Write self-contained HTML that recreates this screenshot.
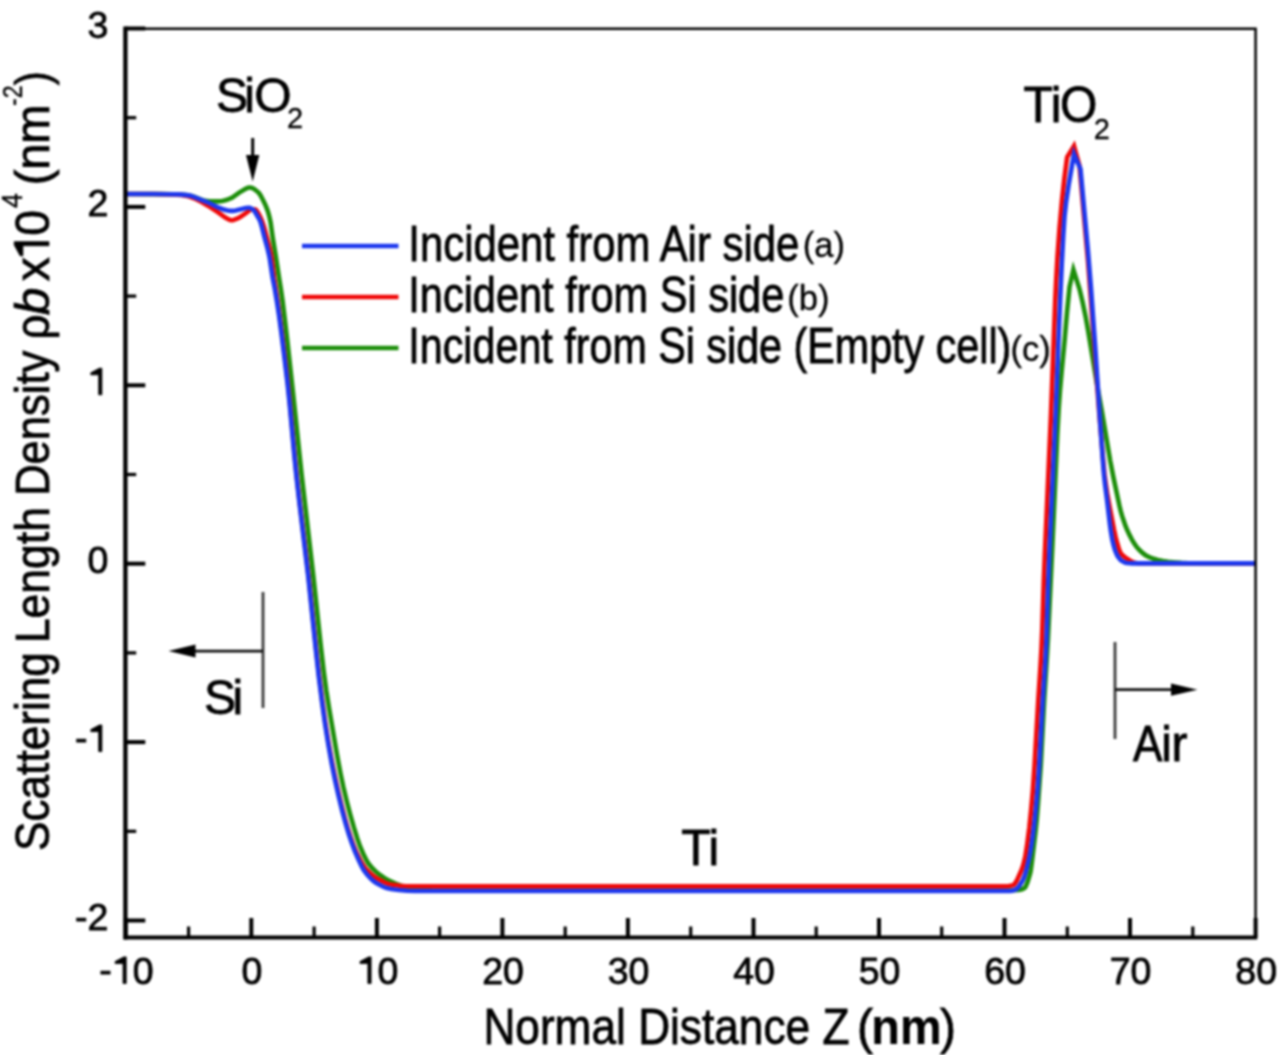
<!DOCTYPE html>
<html><head><meta charset="utf-8"><style>
html,body{margin:0;padding:0;background:#fff;width:1280px;height:1055px;overflow:hidden}
svg{display:block;filter:blur(0.8px)}
text{font-family:"Liberation Sans", sans-serif;fill:#000;stroke:#000;stroke-width:0.8px}
</style></head><body>
<svg width="1280" height="1055" viewBox="0 0 1280 1055">
<rect width="1280" height="1055" fill="#fff"/>
<path d="M125.8,194.0 L160.8,194.1 L174.3,194.3 L182.6,194.7 L187.8,195.3 L191.3,195.9 L193.8,196.7 L203.1,200.3 L205.1,200.9 L209.8,201.2 L218.6,201.4 L222.3,201.0 L224.3,200.6 L226.8,199.8 L229.8,198.6 L232.1,197.6 L233.3,196.9 L238.8,192.9 L245.6,188.8 L248.1,187.7 L249.3,187.5 L250.3,187.5 L252.1,188.0 L254.1,189.0 L256.6,190.9 L258.8,192.9 L260.6,195.5 L263.1,200.2 L264.8,203.7 L266.3,207.2 L267.6,210.6 L268.6,213.9 L269.6,217.8 L270.6,222.5 L272.8,238.2 L275.8,256.4 L279.1,278.0 L280.8,288.7 L282.6,301.2 L284.8,319.3 L287.6,343.3 L293.3,395.6 L301.6,474.5 L313.3,575.8 L320.8,645.9 L323.8,671.9 L326.3,690.6 L329.1,708.4 L336.8,753.7 L340.6,773.9 L343.3,786.8 L346.8,801.5 L350.3,814.9 L353.8,827.2 L357.3,838.5 L360.1,846.4 L363.1,853.5 L366.1,859.6 L368.3,863.3 L372.1,867.9 L375.6,871.4 L379.6,874.7 L384.3,877.9 L389.6,880.9 L395.6,883.6 L402.1,886.2 L404.8,887.0 L410.1,888.1 L414.1,888.8 L417.8,889.3 L431.8,890.2 L444.3,890.5 L1005.8,890.5 L1012.8,890.3 L1019.0,889.9 L1022.0,889.2 L1023.8,888.4 L1024.5,888.0 L1025.3,887.1 L1026.0,885.8 L1027.5,882.2 L1029.5,875.6 L1030.3,872.7 L1030.8,870.1 L1031.8,862.8 L1035.5,831.9 L1036.8,819.2 L1038.0,804.3 L1040.8,765.2 L1044.3,698.5 L1047.0,655.9 L1048.0,638.6 L1052.5,543.0 L1057.3,434.9 L1058.8,407.3 L1060.0,390.3 L1061.8,370.0 L1064.5,341.6 L1067.0,312.3 L1069.5,287.0 L1073.4,269.8 L1079.5,289.0 L1082.5,301.7 L1085.8,317.6 L1088.2,331.2 L1096.5,381.5 L1101.8,410.9 L1110.2,460.6 L1113.2,476.2 L1119.5,506.0 L1120.8,511.3 L1122.0,515.7 L1123.8,521.1 L1125.5,525.9 L1127.2,530.1 L1129.5,534.9 L1131.8,539.3 L1133.8,542.8 L1136.2,546.4 L1139.2,549.8 L1142.5,552.9 L1145.5,555.2 L1149.2,557.1 L1153.8,558.8 L1157.8,559.9 L1163.0,560.9 L1168.0,561.7 L1173.0,562.2 L1181.5,562.9 L1188.5,563.2 L1207.0,563.4 L1255.0,563.4" fill="none" stroke="#1c8e0a" stroke-width="4.6" stroke-linejoin="miter" stroke-miterlimit="6"/>
<path d="M125.8,194.0 L154.1,194.0 L172.1,194.4 L181.1,194.9 L184.1,195.4 L187.3,196.1 L190.8,197.0 L193.3,198.0 L197.1,199.7 L201.6,202.0 L208.3,205.9 L212.8,208.8 L218.1,212.3 L225.3,217.5 L229.3,219.7 L230.3,220.1 L231.3,220.3 L232.6,220.2 L233.8,219.9 L237.6,218.4 L239.8,217.3 L242.3,215.7 L246.8,212.5 L249.6,210.3 L250.8,209.6 L252.1,209.3 L255.3,209.6 L255.8,209.8 L256.3,210.3 L258.3,213.1 L260.6,217.6 L262.3,221.7 L264.3,228.0 L268.8,244.9 L270.3,251.1 L271.6,257.4 L272.3,262.5 L274.3,279.0 L278.1,304.3 L282.3,335.8 L285.8,364.2 L288.6,388.9 L290.3,407.1 L294.8,456.8 L297.1,479.2 L299.8,503.5 L306.1,554.7 L308.6,576.2 L316.3,650.5 L319.1,675.5 L322.1,699.4 L325.1,721.0 L328.3,741.3 L331.8,760.8 L334.6,774.6 L337.8,789.4 L341.3,804.3 L344.8,817.9 L347.8,828.4 L350.6,837.0 L353.8,846.0 L356.8,853.1 L360.3,860.1 L363.3,865.3 L365.6,868.5 L369.1,872.2 L372.8,875.5 L376.8,878.3 L383.3,881.8 L385.8,883.0 L388.3,883.9 L391.1,884.6 L394.6,885.1 L400.3,885.8 L405.8,886.2 L410.1,886.3 L440.6,886.4 L1005.0,886.4 L1008.3,886.2 L1011.5,885.6 L1013.3,885.1 L1014.3,884.3 L1015.5,882.7 L1017.0,880.1 L1021.0,871.3 L1022.3,867.9 L1023.3,864.7 L1025.3,856.6 L1027.0,845.7 L1029.3,827.8 L1031.0,811.0 L1032.8,791.0 L1034.5,766.2 L1038.3,700.0 L1040.5,665.9 L1041.5,648.1 L1042.3,629.0 L1043.8,581.0 L1044.8,555.5 L1051.0,413.9 L1055.3,298.8 L1056.3,277.9 L1057.5,256.3 L1059.5,228.5 L1062.0,200.2 L1064.3,178.9 L1066.8,159.6 L1067.2,157.0 L1074.0,146.0 L1079.5,166.0 L1088.0,261.0 L1090.2,290.3 L1099.0,410.2 L1102.8,456.0 L1104.5,474.5 L1105.8,484.0 L1107.2,493.4 L1109.5,506.1 L1114.0,529.7 L1115.5,536.6 L1117.2,543.3 L1118.8,548.4 L1120.0,551.8 L1120.5,552.8 L1121.2,553.9 L1123.5,556.2 L1125.5,557.7 L1130.2,560.7 L1132.0,561.7 L1133.5,562.4 L1136.5,563.0 L1138.8,563.3 L1255.0,563.4" fill="none" stroke="#f00808" stroke-width="4.6" stroke-linejoin="miter" stroke-miterlimit="6"/>
<path d="M125.8,194.0 L153.1,194.0 L167.6,194.2 L178.8,194.4 L185.1,194.9 L190.1,195.6 L193.3,196.6 L207.6,202.3 L217.3,207.1 L222.8,209.2 L226.6,210.2 L230.6,210.9 L233.3,210.9 L235.6,210.5 L245.8,208.0 L248.1,207.7 L249.6,207.8 L250.8,208.3 L252.1,209.0 L253.6,210.1 L254.6,211.2 L255.8,213.2 L258.6,218.0 L259.6,219.9 L260.6,222.3 L261.8,226.5 L264.3,236.7 L267.6,248.7 L268.8,253.9 L269.8,258.8 L272.6,277.5 L274.8,288.9 L277.1,302.5 L279.1,315.9 L281.3,332.4 L284.3,356.2 L287.6,384.0 L289.6,403.6 L294.3,455.0 L296.3,475.0 L299.3,501.8 L308.1,575.3 L316.1,651.9 L318.8,676.7 L322.1,702.7 L325.1,724.2 L328.3,744.4 L331.8,764.0 L334.8,779.0 L338.3,794.8 L342.1,810.4 L345.6,823.5 L348.6,833.6 L351.6,842.6 L354.8,851.1 L358.8,860.4 L361.6,866.3 L363.8,870.2 L367.3,874.9 L370.8,878.7 L373.6,881.1 L376.3,883.0 L381.8,886.0 L384.3,887.1 L386.8,888.0 L389.1,888.6 L391.1,889.1 L398.8,890.0 L407.1,890.7 L414.8,891.0 L1009.8,891.0 L1012.0,890.7 L1015.0,889.8 L1016.3,889.1 L1017.8,887.7 L1019.5,885.6 L1021.3,882.9 L1022.8,880.3 L1024.0,877.4 L1025.3,873.7 L1026.8,868.3 L1029.8,855.1 L1031.8,843.0 L1034.0,825.9 L1036.0,806.6 L1037.8,786.0 L1039.3,763.0 L1042.8,698.3 L1045.3,661.5 L1046.3,642.8 L1048.0,588.1 L1049.5,549.6 L1056.0,406.0 L1058.8,332.5 L1060.3,296.5 L1061.8,263.8 L1063.3,235.5 L1064.5,216.6 L1066.0,202.9 L1068.8,184.0 L1074.0,154.0 L1080.5,169.0 L1088.0,251.3 L1091.0,288.1 L1095.2,347.0 L1100.0,420.4 L1103.0,462.6 L1104.0,474.9 L1105.0,484.2 L1107.2,501.2 L1109.8,523.4 L1110.8,530.9 L1112.2,539.2 L1113.5,545.0 L1114.8,549.5 L1116.0,552.6 L1117.2,555.3 L1118.5,557.4 L1119.8,559.1 L1120.8,560.1 L1123.0,561.6 L1125.0,562.5 L1126.8,563.0 L1129.8,563.3 L1132.0,563.4 L1255.0,563.4" fill="none" stroke="#1d38ee" stroke-width="4.6" stroke-linejoin="miter" stroke-miterlimit="6"/>
<line x1="125.39999999999999" y1="26.5" x2="125.39999999999999" y2="939.6" stroke="#000" stroke-width="4.3"/>
<line x1="123.7" y1="937.5" x2="1257.3" y2="937.5" stroke="#000" stroke-width="4.2"/>
<path d="M125.8,28.7 L1255.6,28.7 L1255.6,937.5" fill="none" stroke="#000" stroke-width="2.5" stroke-linejoin="miter"/>
<line x1="125.8" y1="937.5" x2="125.8" y2="918" stroke="#000" stroke-width="4"/>
<line x1="251.3" y1="937.5" x2="251.3" y2="918" stroke="#000" stroke-width="4"/>
<line x1="376.9" y1="937.5" x2="376.9" y2="918" stroke="#000" stroke-width="4"/>
<line x1="502.4" y1="937.5" x2="502.4" y2="918" stroke="#000" stroke-width="4"/>
<line x1="627.9" y1="937.5" x2="627.9" y2="918" stroke="#000" stroke-width="4"/>
<line x1="753.5" y1="937.5" x2="753.5" y2="918" stroke="#000" stroke-width="4"/>
<line x1="879.0" y1="937.5" x2="879.0" y2="918" stroke="#000" stroke-width="4"/>
<line x1="1004.5" y1="937.5" x2="1004.5" y2="918" stroke="#000" stroke-width="4"/>
<line x1="1130.0" y1="937.5" x2="1130.0" y2="918" stroke="#000" stroke-width="4"/>
<line x1="1255.6" y1="937.5" x2="1255.6" y2="918" stroke="#000" stroke-width="4"/>
<line x1="188.6" y1="937.5" x2="188.6" y2="926.5" stroke="#000" stroke-width="3.2"/>
<line x1="314.1" y1="937.5" x2="314.1" y2="926.5" stroke="#000" stroke-width="3.2"/>
<line x1="439.6" y1="937.5" x2="439.6" y2="926.5" stroke="#000" stroke-width="3.2"/>
<line x1="565.2" y1="937.5" x2="565.2" y2="926.5" stroke="#000" stroke-width="3.2"/>
<line x1="690.7" y1="937.5" x2="690.7" y2="926.5" stroke="#000" stroke-width="3.2"/>
<line x1="816.2" y1="937.5" x2="816.2" y2="926.5" stroke="#000" stroke-width="3.2"/>
<line x1="941.7" y1="937.5" x2="941.7" y2="926.5" stroke="#000" stroke-width="3.2"/>
<line x1="1067.3" y1="937.5" x2="1067.3" y2="926.5" stroke="#000" stroke-width="3.2"/>
<line x1="1192.8" y1="937.5" x2="1192.8" y2="926.5" stroke="#000" stroke-width="3.2"/>
<line x1="125.8" y1="28.5" x2="145.3" y2="28.5" stroke="#000" stroke-width="4"/>
<line x1="125.8" y1="206.9" x2="145.3" y2="206.9" stroke="#000" stroke-width="4"/>
<line x1="125.8" y1="385.3" x2="145.3" y2="385.3" stroke="#000" stroke-width="4"/>
<line x1="125.8" y1="563.7" x2="145.3" y2="563.7" stroke="#000" stroke-width="4"/>
<line x1="125.8" y1="742.1" x2="145.3" y2="742.1" stroke="#000" stroke-width="4"/>
<line x1="125.8" y1="920.5" x2="145.3" y2="920.5" stroke="#000" stroke-width="4"/>
<line x1="125.8" y1="117.7" x2="136.2" y2="117.7" stroke="#000" stroke-width="3.2"/>
<line x1="125.8" y1="296.1" x2="136.2" y2="296.1" stroke="#000" stroke-width="3.2"/>
<line x1="125.8" y1="474.5" x2="136.2" y2="474.5" stroke="#000" stroke-width="3.2"/>
<line x1="125.8" y1="652.9" x2="136.2" y2="652.9" stroke="#000" stroke-width="3.2"/>
<line x1="125.8" y1="831.3" x2="136.2" y2="831.3" stroke="#000" stroke-width="3.2"/>
<text x="87.45" y="38.0" font-size="37.5">3</text>
<text x="87.45" y="216.4" font-size="37.5">2</text>
<path d="M98.70,394.80 L101.89,394.80 L101.89,368.21 L99.37,368.21 L90.82,372.75 L90.82,374.85 L98.70,374.85Z" fill="#000" stroke="#000" stroke-width="0.8"/>
<text x="87.45" y="573.2" font-size="37.5">0</text>
<text x="74.96" y="750.1" font-size="37.5">-</text>
<path d="M98.70,751.60 L101.89,751.60 L101.89,725.01 L99.38,725.01 L90.83,729.55 L90.83,731.65 L98.70,731.65Z" fill="#000" stroke="#000" stroke-width="0.8"/>
<text x="74.96" y="928.5" font-size="37.5">-</text>
<text x="87.45" y="930.0" font-size="37.5">2</text>
<text x="99.31" y="982.0" font-size="37.5">-</text>
<path d="M123.04,983.50 L126.23,983.50 L126.23,956.91 L123.72,956.91 L115.17,961.45 L115.17,963.55 L123.04,963.55Z" fill="#000" stroke="#000" stroke-width="0.8"/>
<text x="132.64" y="983.5" font-size="37.5">0</text>
<text x="241.47" y="983.5" font-size="37.5">0</text>
<path d="M367.90,983.50 L371.09,983.50 L371.09,956.91 L368.57,956.91 L360.02,961.45 L360.02,963.55 L367.90,963.55Z" fill="#000" stroke="#000" stroke-width="0.8"/>
<text x="377.50" y="983.5" font-size="37.5">0</text>
<text x="482.15" y="983.5" font-size="37.5">2</text>
<text x="503.00" y="983.5" font-size="37.5">0</text>
<text x="607.65" y="983.5" font-size="37.5">3</text>
<text x="628.50" y="983.5" font-size="37.5">0</text>
<text x="733.25" y="983.5" font-size="37.5">4</text>
<text x="754.10" y="983.5" font-size="37.5">0</text>
<text x="858.75" y="983.5" font-size="37.5">5</text>
<text x="879.60" y="983.5" font-size="37.5">0</text>
<text x="984.25" y="983.5" font-size="37.5">6</text>
<text x="1005.10" y="983.5" font-size="37.5">0</text>
<text x="1109.75" y="983.5" font-size="37.5">7</text>
<text x="1130.60" y="983.5" font-size="37.5">0</text>
<text x="1235.35" y="983.5" font-size="37.5">8</text>
<text x="1256.20" y="983.5" font-size="37.5">0</text>
<text x="483.4" y="1044.0" font-size="48" textLength="366.0" lengthAdjust="spacingAndGlyphs" transform="matrix(1,0,0,1.04,0,-41.76)">Normal Distance Z</text>
<text x="857.0" y="1044.0" font-size="48" transform="matrix(1,0,0,1.04,0,-41.76)">(</text>
<text x="871.3" y="1044.0" font-size="48" textLength="70.2" lengthAdjust="spacingAndGlyphs" transform="matrix(1,0,0,1.04,0,-41.76)" font-weight="bold" style="stroke-width:0.2px">nm</text>
<text x="940.0" y="1044.0" font-size="48" transform="matrix(1,0,0,1.04,0,-41.76)">)</text>
<text transform="translate(48.94,0) rotate(-90) matrix(1,0,0,1.02,0,-0.00)" x="-851.01" y="0" font-size="48" textLength="198.9" lengthAdjust="spacingAndGlyphs">Scattering</text>
<text transform="translate(48.94,0) rotate(-90) matrix(1,0,0,1.02,0,-0.00)" x="-643.11" y="0" font-size="48" textLength="135.98" lengthAdjust="spacingAndGlyphs">Length</text>
<text transform="translate(48.94,0) rotate(-90) matrix(1,0,0,1.02,0,-0.00)" x="-495.8" y="0" font-size="48" textLength="145.05" lengthAdjust="spacingAndGlyphs">Density</text>
<text transform="translate(48.94,0) rotate(-90) matrix(1,0,0,1.02,0,-0.00)" x="-339.59" y="0" font-size="48" textLength="25.02" lengthAdjust="spacingAndGlyphs">ρ</text>
<text transform="translate(48.94,0) rotate(-90) matrix(1,0,0,1.02,0,-0.00)" x="-315.25" y="0" font-size="48" textLength="27.67" lengthAdjust="spacingAndGlyphs" font-style="italic">b</text>
<text transform="translate(48.94,0) rotate(-90) matrix(1,0,0,1.02,0,-0.00)" x="-281.24" y="0" font-size="48" textLength="23.94" lengthAdjust="spacingAndGlyphs">x</text>
<text transform="translate(48.94,0) rotate(-90) matrix(1,0,0,1.02,0,-0.00)" x="-235.76" y="0" font-size="48" textLength="25.74" lengthAdjust="spacingAndGlyphs">0</text>
<text transform="translate(48.94,0) rotate(-90) matrix(1,0,0,1.02,0,0.53)" x="-208.0" y="-26.5" font-size="29" textLength="14.92" lengthAdjust="spacingAndGlyphs" style="stroke-width:0.3px">4</text>
<text transform="translate(48.94,0) rotate(-90) matrix(1,0,0,1.02,0,-0.00)" x="-185.33" y="0" font-size="48" textLength="80.76" lengthAdjust="spacingAndGlyphs">(nm</text>
<text transform="translate(48.94,0) rotate(-90) matrix(1,0,0,1.02,0,0.53)" x="-106.06" y="-26.5" font-size="28" textLength="20.58" lengthAdjust="spacingAndGlyphs" style="stroke-width:0.3px">-2</text>
<text transform="translate(48.94,0) rotate(-90) matrix(1,0,0,1.02,0,-0.00)" x="-85.14" y="0" font-size="48" textLength="14.0" lengthAdjust="spacingAndGlyphs">)</text>
<path transform="translate(48.94,0) rotate(-90)" d="M-245.75,0.00 L-241.67,0.00 L-241.67,-34.71 L-244.89,-34.71 L-255.83,-28.79 L-255.83,-26.05 L-245.75,-26.05Z" fill="#000" stroke="#000" stroke-width="0.8"/>
<line x1="302" y1="246" x2="398.5" y2="246" stroke="#1d38ee" stroke-width="4.6"/>
<text x="408.3" y="261.5" font-size="47.5" textLength="391" lengthAdjust="spacingAndGlyphs" transform="matrix(1,0,0,1.04,0,-10.46)">Incident from Air side</text>
<line x1="302" y1="297" x2="398.5" y2="297" stroke="#f00808" stroke-width="4.6"/>
<text x="408.3" y="311.97" font-size="47.5" textLength="376" lengthAdjust="spacingAndGlyphs" transform="matrix(1,0,0,1.04,0,-12.48)">Incident from Si side</text>
<line x1="302" y1="348" x2="398.5" y2="348" stroke="#1c8e0a" stroke-width="4.6"/>
<text x="408.3" y="362.6" font-size="47.5" textLength="603" lengthAdjust="spacingAndGlyphs" transform="matrix(1,0,0,1.04,0,-14.50)">Incident from Si side (Empty cell)</text>
<text x="802.6999999999999" y="257.3" font-size="34.6" style="stroke-width:0.3px">(a)</text>
<text x="787.1999999999999" y="310.2" font-size="34.6" style="stroke-width:0.3px">(b)</text>
<text x="1010.4" y="361.2" font-size="34.6" style="stroke-width:0.3px">(c)</text>
<text x="216.0 244.3 254.2" y="111.54" font-size="48">SiO</text>
<text x="287.0" y="127.8" font-size="29" style="stroke-width:0.3px">2</text>
<text x="1023.4 1050.8 1060.1" y="121.95" font-size="48" transform="matrix(1,0,0,1.03,0,-3.66)">TiO</text>
<text x="1093.7" y="138.5" font-size="29" style="stroke-width:0.3px">2</text>
<line x1="252.7" y1="138" x2="252.7" y2="160" stroke="#000" stroke-width="3"/><path d="M246,155 L259.3,155 L252.7,181.5 Z" fill="#000"/>
<line x1="263" y1="592" x2="263" y2="708" stroke="#3a3a3a" stroke-width="2.8"/>
<line x1="190" y1="651.1" x2="263" y2="651.1" stroke="#111" stroke-width="2.8"/><path d="M168.5,651.1 L195.5,644.6 L195.5,657.6 Z" fill="#000"/>
<text x="204.0 232.6" y="714.04" font-size="48">Si</text>
<line x1="1115" y1="642" x2="1115" y2="739" stroke="#3a3a3a" stroke-width="2.8"/>
<line x1="1115" y1="689.7" x2="1175" y2="689.7" stroke="#111" stroke-width="2.8"/><path d="M1197.5,689.7 L1171,683.6 L1171,695.8 Z" fill="#000"/>
<text x="1133.0" y="761.44" font-size="48" textLength="29.4" lengthAdjust="spacingAndGlyphs" transform="matrix(1,0,0,1.03,0,-22.84)">A</text>
<text x="1161.3 1171.4" y="761.44" font-size="48" transform="matrix(1,0,0,1.03,0,-22.84)">ir</text>
<text x="681.2 708.6" y="865.28" font-size="48" transform="matrix(1,0,0,1.03,0,-25.96)">Ti</text>
</svg>
</body></html>
